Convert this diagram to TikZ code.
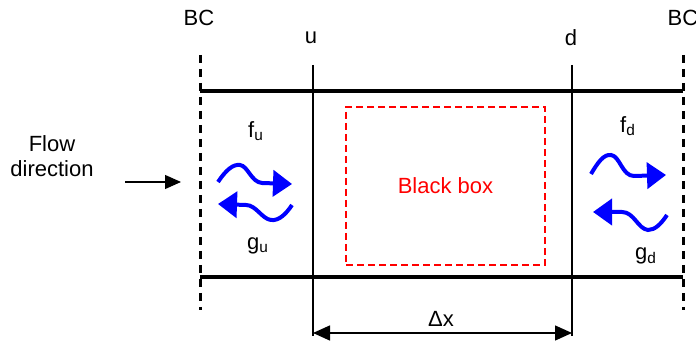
\documentclass[tikz,border=0pt]{standalone}
\usepackage{fontspec}
\setmainfont{Liberation Sans}
\usetikzlibrary{arrows.meta}

\begin{document}
\begin{tikzpicture}[x=0.5pt, y=-0.5pt,
  lbl/.style={font=\fontsize{11}{12.5}\selectfont, inner sep=0pt},
  bcline/.style={line width=1.5pt, dash pattern=on 4pt off 3pt},
  wall/.style={line width=2pt},
  secline/.style={line width=0.7pt},
  wave/.style={-{Triangle[length=9.5pt, width=13pt]}, blue, line width=2pt},
  dimarrow/.style={{Triangle[length=8.5pt, width=7.5pt]}-{Triangle[length=8.5pt, width=7.5pt]}, line width=0.7pt}
]
\useasboundingbox (0,0) rectangle (696,346);

% Boundary conditions
\node[lbl] (bc-l) at (199,18) {BC};
\node[lbl] (bc-r) at (683,18) {BC};
\coordinate (bcl-top) at (200,55);
\coordinate (bcl-bot) at (200,310);
\coordinate (bcr-top) at (683,55);
\coordinate (bcr-bot) at (683,310);
\draw[bcline] (bcl-top) -- (bcl-bot);
\draw[bcline] (bcr-top) -- (bcr-bot);

% Channel walls
\coordinate (wall-tl) at (200,91);
\coordinate (wall-tr) at (683,91);
\coordinate (wall-bl) at (200,277);
\coordinate (wall-br) at (683,277);
\draw[wall] (wall-tl) -- (wall-tr);
\draw[wall] (wall-bl) -- (wall-br);

% Sections u and d
\node[lbl] (u) at (311,38) {u};
\node[lbl] (d) at (571,38) {d};
\coordinate (u-top) at (313,65);
\coordinate (u-bot) at (313,336);
\coordinate (d-top) at (572,65);
\coordinate (d-bot) at (572,336);
\draw[secline] (u-top) -- (u-bot);
\draw[secline] (d-top) -- (d-bot);

% Black box
\node[draw=red, line width=0.8pt, dash pattern=on 3.5pt off 2pt, minimum width=99.5pt,
  minimum height=79pt, text=red, lbl] (box) at (445.5,186) {Black box};

% Flow direction
\node[lbl, align=center] (flow) at (52,156) {Flow\\direction};
\coordinate (flow-start) at (125,182);
\coordinate (flow-end) at (181,182);
\draw[-{Triangle[length=8pt, width=7pt]}, line width=0.6pt] (flow-start) -- (flow-end);

% Upstream waves
\node[lbl] (fu) at (256,131) {f\textsubscript{u}};
\node[lbl] (gu) at (258,246) {g\textsubscript{u}};
\draw[wave] (218,182) .. controls (226,170) and (233,164) .. (240,165)
  .. controls (248,166) and (251,182) .. (262,183) -- (292,184);
\draw[wave] (292,205) .. controls (286,214) and (279,221) .. (271,220)
  .. controls (262,219) and (256,205) .. (246,205) -- (218,204);

% Downstream waves
\node[lbl] (fd) at (628,126) {f\textsubscript{d}};
\node[lbl] (gd) at (646,256) {g\textsubscript{d}};
\draw[wave] (591,174) .. controls (598,162) and (604,154) .. (611,155)
  .. controls (620,156) and (622,176) .. (634,176) -- (666,175);
\draw[wave] (667,215) .. controls (661,224) and (655,230) .. (648,230)
  .. controls (638,229) and (634,212) .. (622,212) -- (593,212);

% Delta x
\node[lbl] (dx) at (441,319) {Δx};
\coordinate (dx-l) at (313,333);
\coordinate (dx-r) at (572,333);
\draw[dimarrow] (dx-l) -- (dx-r);
\end{tikzpicture}
\end{document}
